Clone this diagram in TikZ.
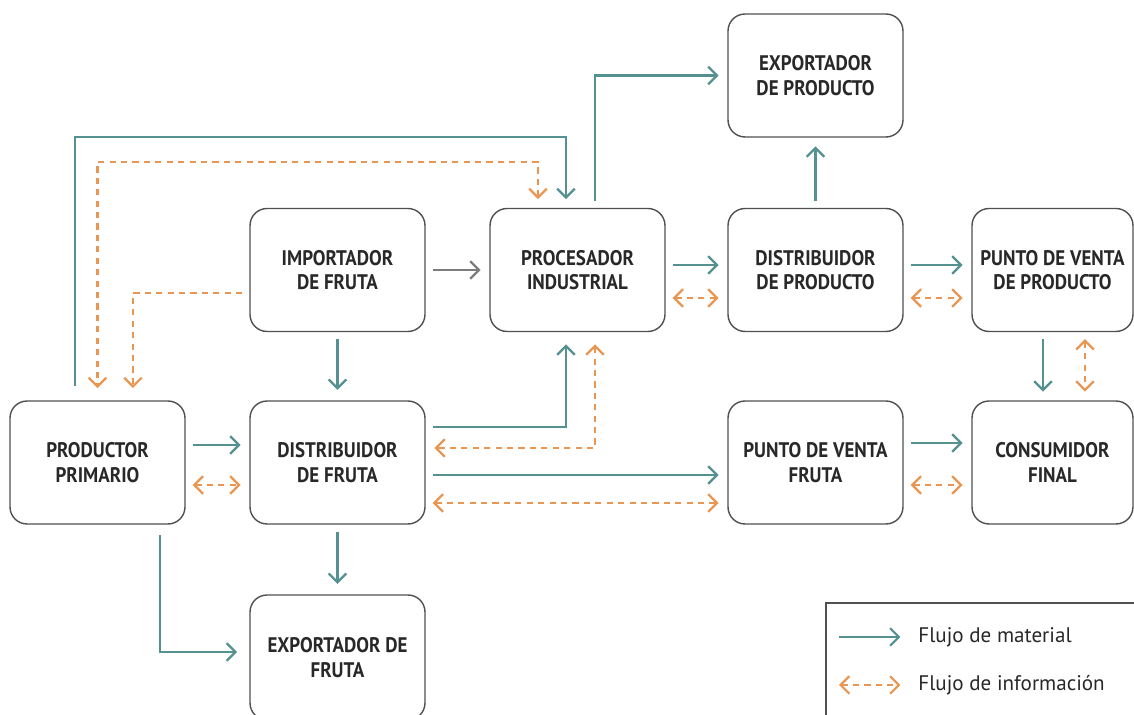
\documentclass[tikz,border=0pt]{standalone}
\usepackage{fontspec}
\setmainfont{PT Sans}
\newfontfamily\cajafont{PT Sans}[FakeStretch=0.9]
\usetikzlibrary{arrows.meta}
\definecolor{material}{RGB}{84,145,144}
\definecolor{info}{RGB}{233,150,82}
\definecolor{gris}{RGB}{125,125,125}
\definecolor{borde}{RGB}{80,80,80}
\definecolor{texto}{RGB}{40,40,40}

\begin{document}
\begin{tikzpicture}[x=0.02cm, y=-0.02cm,
        >={Straight Barb[length=5pt,width=10pt]},
        actor/.style={draw=borde, line width=0.8pt, rounded corners=0.34cm,
            minimum width=3.5cm, minimum height=2.46cm, align=center,
            text=texto, font=\cajafont\fontsize{12}{14}\selectfont\bfseries},
        mat/.style={draw=material, line width=1.25pt, ->, shorten <=4pt, shorten >=5pt},
        inf/.style={draw=info, line width=1.25pt, dash pattern=on 3.5pt off 3pt,
            <->, shorten <=4pt, shorten >=5pt},
        leyenda/.style={anchor=west, inner sep=0pt, text=texto,
            font=\fontsize{12}{14}\selectfont}]
    \clip (0,0) rectangle (1134,715);

    \node[actor] (expP) at (815.5,75.5) {EXPORTADOR\\DE PRODUCTO};
    \node[actor] (imp) at (337.5,270) {IMPORTADOR\\DE FRUTA};
    \node[actor] (proc) at (577.5,270) {PROCESADOR\\INDUSTRIAL};
    \node[actor] (disP) at (815.5,270) {DISTRIBUIDOR\\DE PRODUCTO};
    \node[actor, minimum width=3.22cm] (pvP) at (1052.5,270) {PUNTO DE VENTA\\DE PRODUCTO};
    \node[actor] (prod) at (97.5,462.5) {PRODUCTOR\\PRIMARIO};
    \node[actor] (disF) at (337.5,462.5) {DISTRIBUIDOR\\DE FRUTA};
    \node[actor] (pvF) at (815.5,462.5) {PUNTO DE VENTA\\FRUTA};
    \node[actor, minimum width=3.22cm] (cons) at (1052.5,462.5) {CONSUMIDOR\\FINAL};
    \node[actor, minimum height=2.5cm] (expF) at (337.5,657.5) {EXPORTADOR DE\\FRUTA};

    \draw[mat, shorten <=8pt] ([xshift=-0.45cm]prod.north) -- ++(0,-263) -| ([xshift=-0.23cm]proc.north);
    \draw[inf, shorten <=5pt, shorten >=7pt] ([xshift=-0.79cm]proc.north) -- ++(0,-46) -| (prod.north);
    \draw[inf, -, ->, shorten >=7pt] ([yshift=-0.46cm]imp.west) -| ([xshift=0.71cm]prod.north);

    \draw[mat, draw=gris] (imp) -- (proc);
    \draw[mat, shorten >=6pt] (imp) -- (disF);
    \draw[mat] ([xshift=0.35cm]proc.north) |- (expP.west);
    \draw[mat] (disP) -- (expP);

    \draw[mat] ([yshift=0.1cm]proc.east) -- ([yshift=0.1cm]disP.west);
    \draw[inf] ([yshift=-0.56cm]proc.east) -- ([yshift=-0.56cm]disP.west);
    \draw[mat] ([yshift=0.1cm]disP.east) -- ([yshift=0.1cm]pvP.west);
    \draw[inf] ([yshift=-0.56cm]disP.east) -- ([yshift=-0.56cm]pvP.west);
    \draw[mat] ([xshift=-0.19cm]pvP.south) -- ([xshift=-0.19cm]cons.north);
    \draw[inf] ([xshift=0.65cm]pvP.south) -- ([xshift=0.65cm]cons.north);

    \draw[mat] ([yshift=0.35cm]prod.east) -- ([yshift=0.35cm]disF.west);
    \draw[inf] ([yshift=-0.45cm]prod.east) -- ([yshift=-0.45cm]disF.west);
    \draw[mat, shorten >=7pt] ([yshift=0.71cm]disF.east) -| ([xshift=-0.23cm]proc.south);
    \draw[inf, shorten <=7pt] ([xshift=0.35cm]proc.south) |- ([yshift=0.29cm]disF.east);
    \draw[mat] ([yshift=-0.25cm]disF.east) -- ([yshift=-0.25cm]pvF.west);
    \draw[inf] ([yshift=-0.81cm]disF.east) -- ([yshift=-0.81cm]pvF.west);
    \draw[mat] ([yshift=0.39cm]pvF.east) -- ([yshift=0.39cm]cons.west);
    \draw[inf] ([yshift=-0.45cm]pvF.east) -- ([yshift=-0.45cm]cons.west);

    \draw[mat, shorten >=6pt] (disF) -- (expF);
    \draw[mat, shorten <=6pt, shorten >=7pt] ([xshift=1.25cm]prod.south) |- ([yshift=0.11cm]expF.west);

    \draw[borde, line width=0.8pt] (826,603) rectangle (1150,730);
    \node[leyenda] (legM) at (918,637) {Flujo de material};
    \node[leyenda] (legI) at (918,685) {Flujo de información};
    \draw[mat, shorten <=0pt, shorten >=10pt] (839,637) -- (legM.west);
    \draw[inf, shorten <=0pt, shorten >=10pt] (839,685) -- (legI.west);
\end{tikzpicture}
\end{document}
